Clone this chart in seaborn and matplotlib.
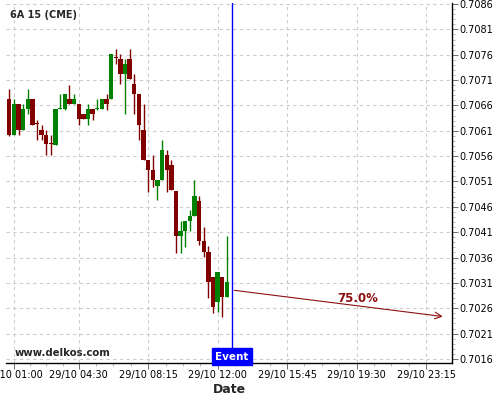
import numpy as np
import matplotlib
matplotlib.use("Agg")
import matplotlib.pyplot as plt
from matplotlib.ticker import MultipleLocator, FixedLocator
import seaborn as sns

# 15-minute candles, index 0 = 29/10 01:00
candle_idx = list(range(-1, 47))
opens = [0.70672, 0.70602, 0.70663, 0.70611, 0.70653, 0.70672, 0.70625, 0.70611, 0.70602, 0.70585,
         0.70582, 0.70653, 0.70653, 0.70672, 0.70663, 0.70663, 0.70643, 0.70633, 0.70653, 0.70653,
         0.70653, 0.70672, 0.70672, 0.70756, 0.70752, 0.70722, 0.70752, 0.70702, 0.70683, 0.70611,
         0.70552, 0.70533, 0.70501, 0.70513, 0.70562, 0.70543, 0.70491, 0.70402, 0.70412, 0.70432,
         0.70442, 0.70472, 0.70393, 0.70371, 0.70322, 0.70272, 0.70322, 0.70282]
closes = [0.70602, 0.70663, 0.70611, 0.70653, 0.70672, 0.70621, 0.70623, 0.70602, 0.70584, 0.70584,
          0.70653, 0.70655, 0.70683, 0.70663, 0.70672, 0.70633, 0.70633, 0.70653, 0.70643, 0.70655,
          0.70672, 0.70663, 0.70761, 0.70754, 0.70722, 0.70742, 0.70712, 0.70683, 0.70621, 0.70552,
          0.70533, 0.70513, 0.70513, 0.70572, 0.70533, 0.70493, 0.70402, 0.70412, 0.70432, 0.70442,
          0.70481, 0.70393, 0.70371, 0.70312, 0.70262, 0.70332, 0.70282, 0.70312]
highs = [0.70692, 0.70672, 0.70663, 0.70663, 0.70692, 0.70672, 0.70631, 0.70621, 0.70611, 0.70602,
         0.70653, 0.70683, 0.70683, 0.70700, 0.70683, 0.70663, 0.70643, 0.70663, 0.70653, 0.70672,
         0.70672, 0.70683, 0.70761, 0.70771, 0.70761, 0.70752, 0.70771, 0.70722, 0.70683, 0.70663,
         0.70552, 0.70562, 0.70513, 0.70592, 0.70572, 0.70552, 0.70491, 0.70432, 0.70432, 0.70454,
         0.70513, 0.70481, 0.70420, 0.70383, 0.70322, 0.70332, 0.70322, 0.70402]
lows = [0.70600, 0.70602, 0.70602, 0.70611, 0.70643, 0.70621, 0.70592, 0.70592, 0.70562, 0.70562,
        0.70582, 0.70653, 0.70651, 0.70663, 0.70663, 0.70621, 0.70633, 0.70621, 0.70631, 0.70651,
        0.70653, 0.70651, 0.70672, 0.70742, 0.70702, 0.70643, 0.70712, 0.70643, 0.70592, 0.70552,
        0.70489, 0.70499, 0.70473, 0.70513, 0.70489, 0.70493, 0.70369, 0.70369, 0.70381, 0.70412,
        0.70442, 0.70385, 0.70361, 0.70280, 0.70251, 0.70253, 0.70243, 0.70282]

tick_idx = [0, 14, 29, 44, 59, 74, 89]
tick_labels = ["29/10 01:00", "29/10 04:30", "29/10 08:15", "29/10 12:00",
               "29/10 15:45", "29/10 19:30", "29/10 23:15"]
y_ticks = [0.7016, 0.7021, 0.7026, 0.7031, 0.7036, 0.7041, 0.7046, 0.7051,
           0.7056, 0.7061, 0.7066, 0.7071, 0.7076, 0.7081, 0.7086]

event_idx = 47
forecast_end_idx = 93.2
forecast_start = 0.70296
forecast_end = 0.70243
forecast_label = "75.0%"

UP, DOWN = "#008000", "#800000"
DARKRED = "#8b1010"

sns.set_theme(style="white")
plt.rcParams["font.family"] = ["DejaVu Sans"]

fig = plt.figure(figsize=(5, 4), dpi=100)
ax = fig.add_axes([0.012, 0.0925, 0.892, 0.9])

colors = [UP if c >= o else DOWN for o, c in zip(opens, closes)]
ax.vlines(candle_idx, lows, highs, colors=colors, lw=1, zorder=2)
bottoms = np.minimum(opens, closes)
heights = np.maximum(np.abs(np.array(closes) - np.array(opens)), 0.000015)
ax.bar(candle_idx, heights, bottom=bottoms, width=0.95, color=colors, linewidth=0, zorder=3)

ax.axvline(event_idx, color="#0000ff", lw=1, zorder=4)
ax.annotate("", xy=(forecast_end_idx, forecast_end), xytext=(event_idx, forecast_start),
            arrowprops=dict(arrowstyle="->", color=DARKRED, lw=0.8,
                            mutation_scale=12), zorder=4)
ax.text(74.3, 0.70280, forecast_label, color=DARKRED, fontsize=8.5, fontweight="bold",
        ha="center", va="center", zorder=5)

ax.set_xlim(-1.7, 94.6)
ax.set_ylim(0.70152, 0.70862)

ax.set_xticks(tick_idx)
ax.set_xticklabels(tick_labels, fontsize=7)
minor_x = []
for a, b in zip(tick_idx[:-1], tick_idx[1:]):
    minor_x += list(np.linspace(a, b, 5)[1:-1])
ax.xaxis.set_minor_locator(FixedLocator(minor_x))

ax.yaxis.tick_right()
ax.set_yticks(y_ticks)
ax.set_yticklabels([f"{v:.4f}" for v in y_ticks], fontsize=7)
ax.yaxis.set_minor_locator(MultipleLocator(0.0001))

ax.tick_params(axis="both", which="major", length=4, width=0.6, color="#555555",
               direction="out", pad=1, labelcolor="black")
ax.tick_params(axis="both", which="minor", length=2, width=0.5, color="#999999", direction="out")
ax.tick_params(axis="x", bottom=True, which="both")
ax.tick_params(axis="y", right=True, left=False, which="both")

ax.grid(True, which="major", ls=(0, (3, 3)), color="#cccccc", lw=0.8)
for side in ["top", "left"]:
    ax.spines[side].set_visible(False)
for side in ["bottom", "right"]:
    ax.spines[side].set_color("black")
    ax.spines[side].set_linewidth(1)

ax.set_xlabel("Date", fontsize=9, fontweight="bold", labelpad=2)
ax.set_ylabel("")

fig.text(0.02, 0.9625, "6A 15 (CME)", fontsize=7, fontweight="bold", va="center", ha="left")
fig.text(0.03, 0.1175, "www.delkos.com", fontsize=7.3, fontweight="bold", va="center", ha="left")
fig.text(0.464, 0.108, "Event", fontsize=7.5, fontweight="bold", color="white",
         ha="center", va="center",
         bbox=dict(boxstyle="square,pad=0.32", fc="#0000ff", ec="#0000ff"))

fig.savefig("out.png", dpi=100)
